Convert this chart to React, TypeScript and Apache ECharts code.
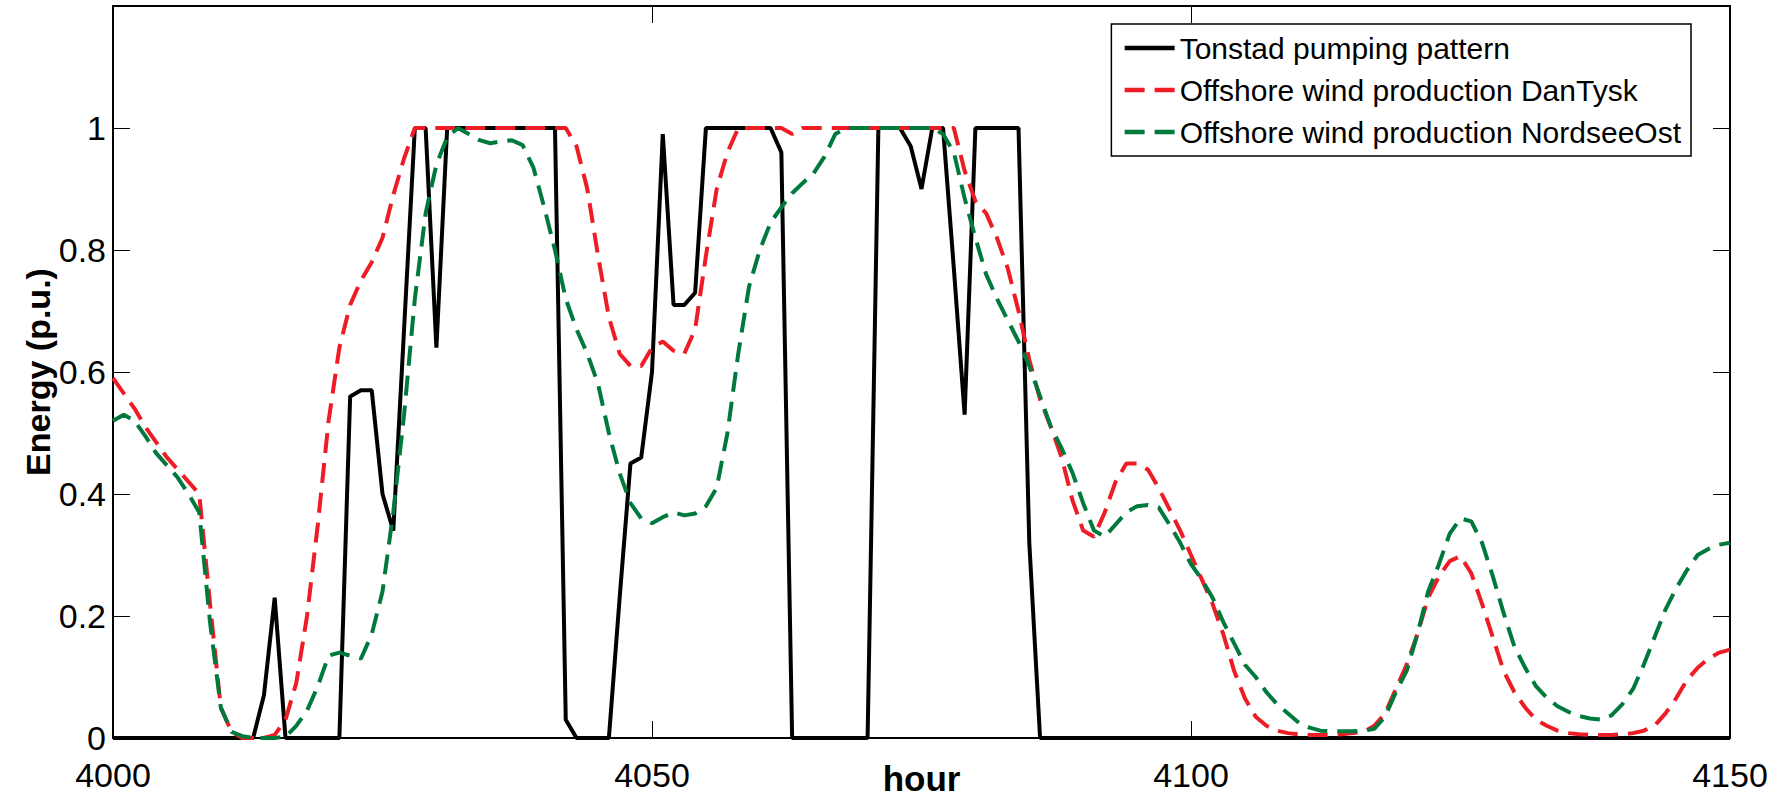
import React, { useEffect, useRef } from "react";
import * as echarts from "echarts";

// hours 4000 .. 4150 (x positions of hourly samples)
const hourStart = 4000;
const hourEnd = 4150;
const hours: number[] = Array.from({ length: hourEnd - hourStart + 1 }, (_, i) => hourStart + i);

const seriesNames = [
  "Tonstad pumping pattern",
  "Offshore wind production DanTysk",
  "Offshore wind production NordseeOst",
];

const xTicks = [4000, 4050, 4100, 4150];
const yTicks = [0, 0.2, 0.4, 0.6, 0.8, 1];

// Tonstad pumping pattern (hourly)
const tonstad = [
  0, 0, 0, 0, 0, 0, 0, 0, 0, 0,
  0, 0, 0, 0, 0.07, 0.23, 0, 0, 0, 0,
  0, 0, 0.56, 0.57, 0.57, 0.4, 0.34, 0.67, 1, 1,
  0.64, 1, 1, 1, 1, 1, 1, 1, 1, 1,
  1, 1, 0.03, 0, 0, 0, 0, 0.23, 0.45, 0.46,
  0.6, 0.99, 0.71, 0.71, 0.73, 1, 1, 1, 1, 1,
  1, 1, 0.96, 0, 0, 0, 0, 0, 0, 0,
  0, 1, 1, 1, 0.97, 0.9, 1, 1, 0.77, 0.53,
  1, 1, 1, 1, 1, 0.32, 0, 0, 0, 0,
  0, 0, 0, 0, 0, 0, 0, 0, 0, 0,
  0, 0, 0, 0, 0, 0, 0, 0, 0, 0,
  0, 0, 0, 0, 0, 0, 0, 0, 0, 0,
  0, 0, 0, 0, 0, 0, 0, 0, 0, 0,
  0, 0, 0, 0, 0, 0, 0, 0, 0, 0,
  0, 0, 0, 0, 0, 0, 0, 0, 0, 0,
  0,
];

// Offshore wind production DanTysk (hourly)
const danTysk = [
  0.59, 0.565, 0.54, 0.51, 0.485, 0.46, 0.44, 0.42, 0.4, 0.22,
  0.05, 0.01, 0, 0, 0, 0.005, 0.03, 0.09, 0.2, 0.35,
  0.52, 0.64, 0.71, 0.75, 0.78, 0.82, 0.89, 0.95, 1, 1,
  1, 1, 1, 1, 1, 1, 1, 1, 1, 1,
  1, 1, 1, 0.97, 0.9, 0.79, 0.69, 0.63, 0.61, 0.61,
  0.64, 0.65, 0.635, 0.63, 0.67, 0.79, 0.9, 0.96, 1, 1,
  1, 1, 1, 0.99, 1, 1, 1, 1, 1, 1,
  1, 1, 1, 1, 1, 1, 1, 1, 1, 0.93,
  0.88, 0.86, 0.82, 0.77, 0.7, 0.62, 0.555, 0.51, 0.46, 0.39,
  0.34, 0.33, 0.37, 0.42, 0.45, 0.45, 0.44, 0.41, 0.375, 0.34,
  0.3, 0.26, 0.22, 0.17, 0.11, 0.065, 0.035, 0.02, 0.012, 0.008,
  0.006, 0.005, 0.005, 0.005, 0.006, 0.008, 0.01, 0.02, 0.04, 0.08,
  0.12, 0.17, 0.23, 0.265, 0.29, 0.298, 0.27, 0.22, 0.165, 0.11,
  0.075, 0.05, 0.03, 0.02, 0.012, 0.008, 0.006, 0.005, 0.005, 0.005,
  0.006, 0.008, 0.012, 0.02, 0.04, 0.065, 0.095, 0.115, 0.13, 0.14,
  0.145,
];

// Offshore wind production NordseeOst (hourly)
const nordseeOst = [
  0.52, 0.53, 0.52, 0.495, 0.467, 0.447, 0.427, 0.4, 0.37, 0.19,
  0.05, 0.01, 0.003, 0, 0, 0, 0.002, 0.02, 0.045, 0.085,
  0.135, 0.14, 0.135, 0.13, 0.17, 0.24, 0.37, 0.53, 0.72, 0.86,
  0.94, 0.985, 1, 0.99, 0.98, 0.975, 0.978, 0.98, 0.972, 0.935,
  0.87, 0.8, 0.72, 0.67, 0.63, 0.58, 0.5, 0.434, 0.385, 0.36,
  0.352, 0.362, 0.37, 0.365, 0.368, 0.38, 0.41, 0.5, 0.63, 0.74,
  0.8, 0.845, 0.87, 0.893, 0.91, 0.926, 0.953, 0.99, 1, 1,
  1, 1, 1, 1, 1, 1, 1, 0.99, 0.96, 0.885,
  0.82, 0.76, 0.72, 0.685, 0.65, 0.61, 0.56, 0.51, 0.475, 0.435,
  0.385, 0.34, 0.33, 0.35, 0.37, 0.38, 0.382, 0.378, 0.35, 0.32,
  0.285, 0.26, 0.23, 0.19, 0.155, 0.12, 0.1, 0.075, 0.055, 0.04,
  0.025, 0.017, 0.012, 0.011, 0.011, 0.011, 0.012, 0.015, 0.035, 0.075,
  0.11, 0.17, 0.24, 0.285, 0.335, 0.36, 0.355, 0.32, 0.265, 0.205,
  0.15, 0.115, 0.085, 0.066, 0.052, 0.043, 0.036, 0.032, 0.03, 0.037,
  0.055, 0.08, 0.12, 0.165, 0.21, 0.245, 0.275, 0.3, 0.31, 0.317,
  0.32,
];

const FONT = "'Liberation Sans', Arial, Helvetica, sans-serif";
const colors = ["#000000", "#EE1C25", "#00793D"];

function pairs(vals: number[]) {
  return hours.map((h, i) => [h, vals[i]]);
}

export default function App() {
  const ref = useRef<HTMLDivElement>(null);

  useEffect(() => {
    document.body.style.margin = "0";
    const chart = echarts.init(ref.current!, null, { renderer: "svg" });

    const axisLine = { show: true, onZero: false, lineStyle: { color: "#000", width: 2 } };
    const tickStyle = { show: true, inside: true, length: 17, lineStyle: { color: "#000", width: 1 } };

    const xBase = {
      type: "value" as const,
      min: xTicks[0],
      max: xTicks[xTicks.length - 1],
      interval: 50,
      splitLine: { show: false },
      axisLine,
      axisTick: tickStyle,
    };
    const yBase = {
      type: "value" as const,
      min: 0,
      max: 1.2,
      interval: 0.2,
      splitLine: { show: false },
      axisLine,
      axisTick: tickStyle,
    };

    const option = {
      animation: false,
      textStyle: { fontFamily: FONT },
      grid: {
        left: 113,
        right: 45,
        top: 6,
        bottom: 61,
        containLabel: false,
        outerBoundsMode: "none",
      },
      xAxis: [
        {
          ...xBase,
          position: "bottom",
          name: "hour",
          nameLocation: "middle",
          nameGap: 23,
          nameMoveOverlap: false,
          nameTextStyle: { fontFamily: FONT, fontSize: 35, fontWeight: "bold", color: "#000" },
          axisLabel: {
            fontFamily: FONT,
            fontSize: 34,
            color: "#000",
            margin: 20,
            formatter: (v: number) => String(v),
          },
        },
        {
          ...xBase,
          position: "top",
          axisLabel: { show: false },
        },
      ],
      yAxis: [
        {
          ...yBase,
          position: "left",
          name: "Energy (p.u.)",
          nameLocation: "middle",
          nameRotate: 90,
          nameGap: 58,
          nameMoveOverlap: false,
          nameTextStyle: { fontFamily: FONT, fontSize: 34, fontWeight: "bold", color: "#000" },
          axisLabel: {
            fontFamily: FONT,
            fontSize: 34,
            color: "#000",
            margin: 7,
            formatter: (v: number) => {
              const r = Math.round(v * 10) / 10;
              return yTicks.indexOf(r) >= 0 ? String(r) : "";
            },
          },
        },
        {
          ...yBase,
          position: "right",
          axisLabel: { show: false },
        },
      ],
      legend: {
        orient: "vertical",
        right: 84,
        top: 24,
        align: "left",
        itemWidth: 50,
        itemHeight: 14,
        itemGap: 6,
        padding: [6, 10, 6, 11],
        borderColor: "#000",
        borderWidth: 1.5,
        borderRadius: 0,
        backgroundColor: "#fff",
        itemStyle: { opacity: 0 },
        lineStyle: { width: 4.5 },
        textStyle: { fontFamily: FONT, fontSize: 30, color: "#000", lineHeight: 36 },
        data: seriesNames,
      },
      series: [
        {
          name: seriesNames[0],
          type: "line",
          symbol: "none",
          data: pairs(tonstad),
          lineStyle: { color: colors[0], width: 4, type: "solid" },
          itemStyle: { color: colors[0] },
          z: 2,
        },
        {
          name: seriesNames[1],
          type: "line",
          symbol: "none",
          data: pairs(danTysk),
          lineStyle: { color: colors[1], width: 4, type: [20, 10] },
          itemStyle: { color: colors[1] },
          z: 3,
        },
        {
          name: seriesNames[2],
          type: "line",
          symbol: "none",
          data: pairs(nordseeOst),
          lineStyle: { color: colors[2], width: 4, type: [20, 10] },
          itemStyle: { color: colors[2] },
          z: 4,
        },
      ],
    };

    chart.setOption(option as any);
    return () => chart.dispose();
  }, []);

  return <div ref={ref} style={{ width: 1775, height: 799 }} />;
}
